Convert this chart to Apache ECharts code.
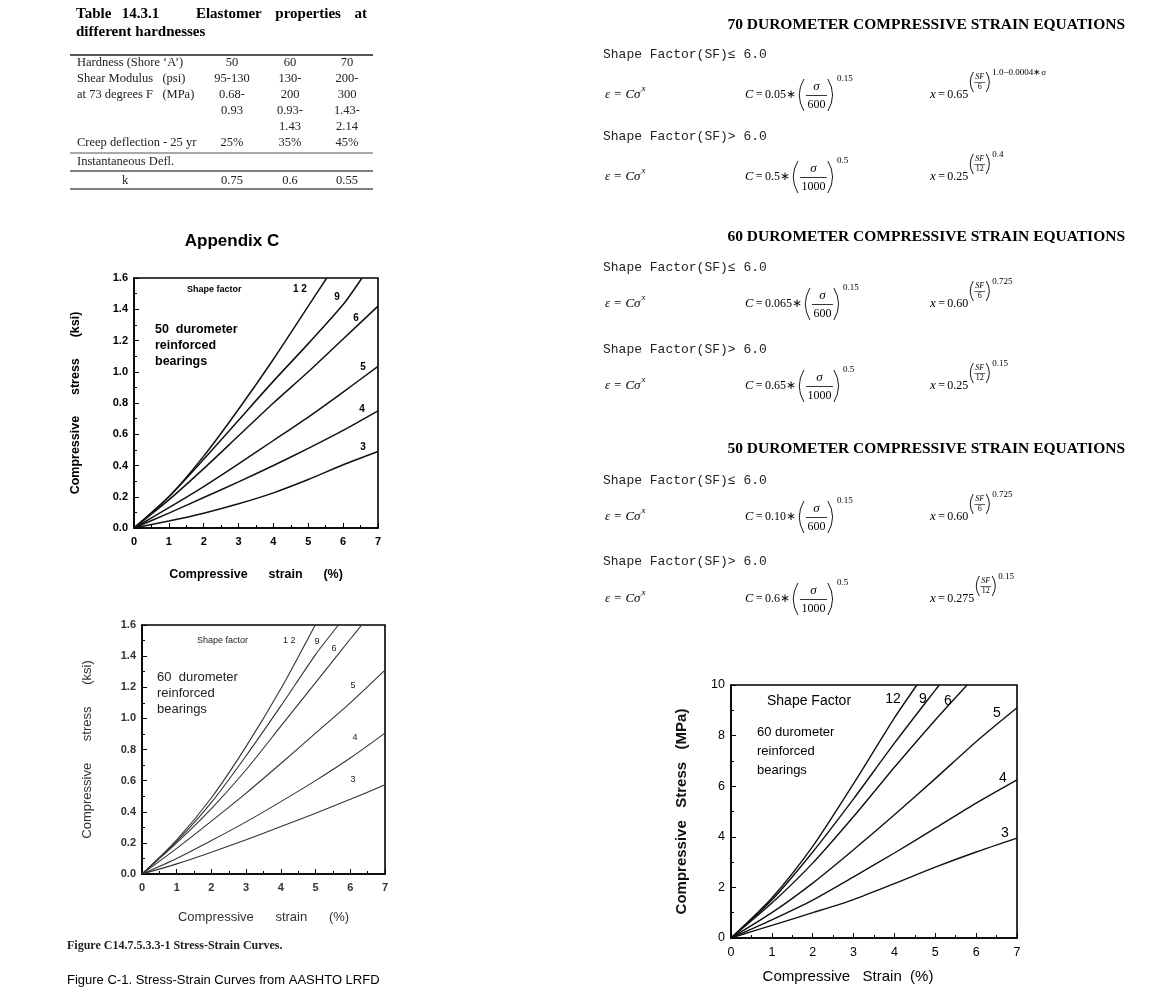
<!DOCTYPE html>
<html><head><meta charset="utf-8">
<script src="https://cdn.jsdelivr.net/npm/echarts@6/dist/echarts.min.js"></script>
<style>html,body{margin:0;padding:0;background:#fff}#c{width:1153px;height:1001px}</style>
</head><body><div id="c"></div>
<script>
// ---------------- DATA ----------------
const strainTicks = [0, 1, 2, 3, 4, 5, 6, 7];
const shapeFactors = ['3', '4', '5', '6', '9', '12'];

// 50 durometer, compressive stress (ksi) vs strain (%)
const d50_sf3  = [[0,0],[1,0.045],[2,0.095],[3,0.155],[4,0.225],[5,0.31],[6,0.405],[7,0.49]];
const d50_sf4  = [[0,0],[1,0.095],[2,0.195],[3,0.295],[4,0.4],[5,0.51],[6,0.625],[7,0.75]];
const d50_sf5  = [[0,0],[1,0.13],[2,0.265],[3,0.41],[4,0.56],[5,0.71],[6,0.87],[7,1.035]];
const d50_sf6  = [[0,0],[1,0.18],[2,0.38],[3,0.59],[4,0.8],[5,1.0],[6,1.21],[7,1.42]];
const d50_sf9  = [[0,0],[1,0.2],[2,0.44],[3,0.69],[4,0.94],[5,1.18],[6,1.43],[6.54,1.6]];
const d50_sf12 = [[0,0],[1,0.2],[2,0.46],[3,0.76],[4,1.08],[5,1.42],[5.53,1.6]];

// 60 durometer, compressive stress (ksi)
const d60_sf3  = [[0,0],[1,0.065],[2,0.14],[3,0.22],[4,0.305],[5,0.39],[6,0.48],[7,0.573]];
const d60_sf4  = [[0,0],[1,0.1],[2,0.215],[3,0.335],[4,0.465],[5,0.6],[6,0.745],[7,0.905]];
const d60_sf5  = [[0,0],[1,0.165],[2,0.34],[3,0.52],[4,0.71],[5,0.905],[6,1.1],[7,1.31]];
const d60_sf6  = [[0,0],[1,0.2],[2,0.42],[3,0.67],[4,0.95],[5,1.23],[6,1.51],[6.33,1.6]];
const d60_sf9  = [[0,0],[1,0.21],[2,0.46],[3,0.76],[4,1.08],[5,1.41],[5.66,1.6]];
const d60_sf12 = [[0,0],[1,0.22],[2,0.49],[3,0.82],[4,1.19],[4.99,1.6]];

// 60 durometer, compressive stress (MPa)
const m60_sf3  = [[0,0],[1,0.5],[2,1.0],[3,1.52],[4,2.15],[5,2.8],[6,3.4],[7,3.95]];
const m60_sf4  = [[0,0],[1,0.72],[2,1.5],[3,2.42],[4,3.36],[5,4.34],[6,5.33],[7,6.25]];
const m60_sf5  = [[0,0],[1,1.0],[2,2.17],[3,3.49],[4,4.87],[5,6.3],[6,7.76],[7,9.1]];
const m60_sf6  = [[0,0],[1,1.38],[2,2.96],[3,4.8],[4,6.75],[5,8.62],[5.78,10]];
const m60_sf9  = [[0,0],[1,1.5],[2,3.4],[3,5.5],[4,7.7],[5,9.8],[5.1,10]];
const m60_sf12 = [[0,0],[1,1.58],[2,3.62],[3,6.1],[4,8.7],[4.55,10]];

const ksiTicks = [0, 0.2, 0.4, 0.6, 0.8, 1.0, 1.2, 1.4, 1.6];
const mpaTicks = [0, 2, 4, 6, 8, 10];

// Table 14.3.1
const tableHeader = ['Hardness (Shore \u2018A\u2019)', '50', '60', '70'];
const tableRows = [
  ['Shear Modulus   (psi)', '95-130', '130-', '200-'],
  ['at 73 degrees F   (MPa)', '0.68-', '200', '300'],
  ['', '0.93', '0.93-', '1.43-'],
  ['', '', '1.43', '2.14'],
  ['Creep deflection - 25 yr', '25%', '35%', '45%']
];
const tableInst = 'Instantaneous Defl.';
const tableK = ['k', '0.75', '0.6', '0.55'];

// Equations
const eqBlocks = [
  {title:'70 DUROMETER COMPRESSIVE STRAIN EQUATIONS',
   le:{c:'0.05', den:'600', cexp:'0.15', xb:'0.65', xd:'6', xexp:'1.0\u22120.0004\u2217\u03c3'},
   gt:{c:'0.5', den:'1000', cexp:'0.5', xb:'0.25', xd:'12', xexp:'0.4'}},
  {title:'60 DUROMETER COMPRESSIVE STRAIN EQUATIONS',
   le:{c:'0.065', den:'600', cexp:'0.15', xb:'0.60', xd:'6', xexp:'0.725'},
   gt:{c:'0.65', den:'1000', cexp:'0.5', xb:'0.25', xd:'12', xexp:'0.15'}},
  {title:'50 DUROMETER COMPRESSIVE STRAIN EQUATIONS',
   le:{c:'0.10', den:'600', cexp:'0.15', xb:'0.60', xd:'6', xexp:'0.725'},
   gt:{c:'0.6', den:'1000', cexp:'0.5', xb:'0.275', xd:'12', xexp:'0.15'}}
];

// ---------------- LAYOUT HELPERS ----------------
const FS = '"Liberation Sans", Arial, sans-serif';
const FSn = 'Liberation Sans';
const FT = '"Liberation Serif", "Times New Roman", serif';
const FM = '"Liberation Mono", "Courier New", monospace';
const ctx = document.createElement('canvas').getContext('2d');
function tw(s, font){ ctx.font = font; return ctx.measureText(s).width; }
function T(x, y, s, font, o){ o = o || {}; return {type:'text', x:x, y:y, silent:true, z:100,
  style:{text:s, font:font, fill:o.fill || '#000', align:o.align || 'left', verticalAlign:o.va || 'middle'}}; }
function L(x1, y1, x2, y2, w, c){ return {type:'line', silent:true, z:100, shape:{x1:x1,y1:y1,x2:x2,y2:y2},
  style:{stroke:c || '#000', lineWidth:w || 1}}; }
function P(x, yt, yb, w, left){
  const m = (yt + yb) / 2;
  const sh = left ? {x1:x + w, y1:yt, x2:x + w, y2:yb, cpx1:x - w * 0.55, cpy1:m}
                  : {x1:x, y1:yt, x2:x, y2:yb, cpx1:x + w * 1.55, cpy1:m};
  return {type:'bezierCurve', silent:true, z:100, shape:sh, style:{stroke:'#000', lineWidth:0.9, fill:null}};
}

const G = [];

// ---- Table ----
(function(){
  const tf = `bold 15px ${FT}`;
  const words = ['Table', '14.3.1', 'Elastomer', 'properties', 'at'];
  const x0 = 76, x1 = 367;
  let total = 0; words.forEach(w => total += tw(w, tf));
  const gaps = [1, 3.5, 1.3, 1.3]; const gsum = 7.1;
  const free = (x1 - x0) - total;
  let x = x0;
  words.forEach((w, i) => { G.push(T(x, 14, w, tf)); x += tw(w, tf) + (i < 4 ? free * gaps[i] / gsum : 0); });
  G.push(T(76, 32, 'different hardnesses', tf));
  const rf = `12.5px ${FT}`, col = '#222';
  const cx = [232, 290, 347];
  G.push(L(70, 55, 373, 55, 2, '#555'));
  G.push(T(77, 63, tableHeader[0], rf, {fill:col}));
  for (let j = 1; j < 4; j++) G.push(T(cx[j-1], 63, tableHeader[j], rf, {fill:col, align:'center'}));
  tableRows.forEach((r, i) => {
    const y = 79 + i * 16;
    if (r[0]) G.push(T(77, y, r[0], rf, {fill:col}));
    for (let j = 1; j < 4; j++) if (r[j]) G.push(T(cx[j-1], y, r[j], rf, {fill:col, align:'center'}));
  });
  G.push(L(70, 153, 373, 153, 1.2, '#555'));
  G.push(T(77, 162, tableInst, rf, {fill:col}));
  G.push(L(70, 171, 373, 171, 1.6, '#555'));
  G.push(T(125, 181, tableK[0], rf, {fill:col, align:'center'}));
  for (let j = 1; j < 4; j++) G.push(T(cx[j-1], 181, tableK[j], rf, {fill:col, align:'center'}));
  G.push(L(70, 189, 373, 189, 1.6, '#555'));
})();

// ---- Equations ----
function eqRow(y, p){
  const it = `italic 13px ${FT}`, nm = `12px ${FT}`, itC = `italic 12.5px ${FT}`;
  let x = 605;
  G.push(T(x, y, '\u03b5 = C\u03c3', it));
  x += tw('\u03b5 = C\u03c3', it) + 1;
  G.push(T(x, y - 6, 'x', `italic 9px ${FT}`));
  x = 745;
  G.push(T(x, y, 'C', itC)); x += tw('C', itC);
  const s1 = '\u2009=\u2009' + p.c + '\u2217'; G.push(T(x, y, s1, nm)); x += tw(s1, nm) + 2;
  G.push(P(x, y - 16, y + 16, 6, true)); x += 8;
  const fw = tw(p.den, nm) + 3;
  G.push(T(x + fw / 2, y - 8, '\u03c3', it, {align:'center'}));
  G.push(L(x, y + 0.5, x + fw, y + 0.5, 0.8));
  G.push(T(x + fw / 2, y + 10, p.den, nm, {align:'center'}));
  x += fw + 1;
  G.push(P(x, y - 16, y + 16, 6, false)); x += 9;
  G.push(T(x, y - 16, p.cexp, `9px ${FT}`));
  x = 930;
  G.push(T(x, y, 'x', it)); x += tw('x', it);
  const s2 = '\u2009=\u2009' + p.xb; G.push(T(x, y, s2, nm)); x += tw(s2, nm) + 1;
  const sy = y - 13;
  G.push(P(x, sy - 10, sy + 10, 4, true)); x += 5;
  const sf = `italic 8px ${FT}`, df = `8px ${FT}`;
  const fw2 = Math.max(tw('SF', sf), tw(p.xd, df)) + 2;
  G.push(T(x + fw2 / 2, sy - 5, 'SF', sf, {align:'center'}));
  G.push(L(x, sy + 0.5, x + fw2, sy + 0.5, 0.6));
  G.push(T(x + fw2 / 2, sy + 5, p.xd, df, {align:'center'}));
  x += fw2 + 1;
  G.push(P(x, sy - 10, sy + 10, 4, false)); x += 6;
  G.push(T(x, sy - 9, p.xexp, `9px ${FT}`));
}
const eqY = [[25, 55, 95, 137, 177], [237, 268, 304, 350, 386], [449, 481, 517, 562, 599]];
eqBlocks.forEach((b, i) => {
  const ys = eqY[i];
  G.push(T(1125, ys[0], b.title, `bold 15.5px ${FT}`, {align:'right'}));
  G.push(T(603, ys[1], 'Shape Factor(SF)\u2264 6.0', `13px ${FM}`, {fill:'#222'}));
  eqRow(ys[2], b.le);
  G.push(T(603, ys[3], 'Shape Factor(SF)> 6.0', `13px ${FM}`, {fill:'#222'}));
  eqRow(ys[4], b.gt);
});

// ---- Chart annotations ----
G.push(T(232, 241, 'Appendix C', `bold 17px ${FS}`, {align:'center'}));
G.push(T(187, 290, 'Shape factor', `bold 9px ${FS}`));
G.push(T(293, 289, '1 2', `bold 10px ${FS}`));
[['9',337,297],['6',356,318],['5',363,367],['4',362,409],['3',363,447]].forEach(a => G.push(T(a[1], a[2], a[0], `bold 10px ${FS}`, {align:'center'})));
G.push(T(155, 330, '50  durometer', `bold 12.5px ${FS}`));
G.push(T(155, 346, 'reinforced', `bold 12.5px ${FS}`));
G.push(T(155, 362, 'bearings', `bold 12.5px ${FS}`));
G.push(T(197, 641, 'Shape factor', `9px ${FS}`, {fill:'#222'}));
G.push(T(283, 641, '1 2', `9px ${FS}`, {fill:'#222'}));
[['9',317,642],['6',334,649],['5',353,686],['4',355,738],['3',353,780]].forEach(a => G.push(T(a[1], a[2], a[0], `9px ${FS}`, {align:'center', fill:'#222'})));
G.push(T(157, 677, '60  durometer', `13px ${FS}`, {fill:'#222'}));
G.push(T(157, 693, 'reinforced', `13px ${FS}`, {fill:'#222'}));
G.push(T(157, 709, 'bearings', `13px ${FS}`, {fill:'#222'}));
G.push(T(67, 946, 'Figure C14.7.5.3.3-1 Stress-Strain Curves.', `bold 12px ${FT}`, {fill:'#222'}));
G.push(T(67, 980, 'Figure C-1. Stress-Strain Curves from AASHTO LRFD', `13px ${FS}`));
G.push(T(767, 701, 'Shape Factor', `14px ${FS}`));
G.push(T(893, 699, '12', `14px ${FS}`, {align:'center'}));
[['9',923,699],['6',948,701],['5',997,713],['4',1003,778],['3',1005,833]].forEach(a => G.push(T(a[1], a[2], a[0], `14px ${FS}`, {align:'center'})));
G.push(T(757, 732, '60 durometer', `13px ${FS}`));
G.push(T(757, 751, 'reinforced', `13px ${FS}`));
G.push(T(757, 770, 'bearings', `13px ${FS}`));

// ---------------- CHART ----------------
const grids = [
  {left:134, top:278, width:244, height:250},
  {left:142, top:625, width:243, height:249},
  {left:731, top:685, width:286, height:253}
].map(g => Object.assign(g, {show:true, borderColor:'#000', borderWidth:1.6, backgroundColor:'transparent', containLabel:false}));

function ts(size, weight, color, pad){ const o = {fontFamily:FSn, fontSize:size, fontWeight:weight, color:color}; if (pad) o.padding = pad; return o; }
function xAx(i, name, gap, lf, nf){
  return {type:'value', gridIndex:i, min:strainTicks[0], max:strainTicks[strainTicks.length-1], interval:1,
    name:name, nameLocation:'middle', nameGap:gap, nameTextStyle:nf,
    axisLine:{show:true, lineStyle:{color:'#000', width:1.6}},
    axisTick:{show:true, inside:true, length:5, lineStyle:{color:'#000'}},
    minorTick:{show:true, splitNumber:2, length:3, lineStyle:{color:'#000'}},
    splitLine:{show:false}, minorSplitLine:{show:false},
    axisLabel:Object.assign({margin:8}, lf)};
}
function yAx(i, ticks, interval, name, gap, lf, nf, fmt){
  return {type:'value', gridIndex:i, min:ticks[0], max:ticks[ticks.length-1], interval:interval,
    name:name, nameLocation:'middle', nameGap:gap, nameRotate:90, nameTextStyle:nf,
    axisLine:{show:true, lineStyle:{color:'#000', width:1.6}},
    axisTick:{show:true, inside:true, length:5, lineStyle:{color:'#000'}},
    minorTick:{show:true, splitNumber:2, length:3, lineStyle:{color:'#000'}},
    splitLine:{show:false}, minorSplitLine:{show:false},
    axisLabel:Object.assign({margin:6, formatter:fmt}, lf)};
}

const xAxes = [
  xAx(0, 'Compressive      strain      (%)', 40, ts(11, 'bold', '#000'), ts(12.5, 'bold', '#000')),
  xAx(1, 'Compressive      strain      (%)', 37, ts(11, 'bold', '#333'), ts(13, 'normal', '#333')),
  xAx(2, 'Compressive   Strain  (%)', 31, ts(12.5, 'normal', '#000'), ts(15, 'normal', '#000', [0, 52, 0, 0]))
];
const yAxes = [
  yAx(0, ksiTicks, 0.2, 'Compressive      stress      (ksi)', 52, ts(11, 'bold', '#000'), ts(12.5, 'bold', '#000'), v => v.toFixed(1)),
  yAx(1, ksiTicks, 0.2, 'Compressive      stress      (ksi)', 48, ts(11, 'bold', '#333'), ts(13, 'normal', '#333'), v => v.toFixed(1)),
  yAx(2, mpaTicks, 2, 'Compressive   Stress   (MPa)', 42, ts(12.5, 'normal', '#000'), ts(15, 'bold', '#111'), v => String(v))
];

const chartSets = [
  {data:[d50_sf3, d50_sf4, d50_sf5, d50_sf6, d50_sf9, d50_sf12], color:'#111', width:1.5},
  {data:[d60_sf3, d60_sf4, d60_sf5, d60_sf6, d60_sf9, d60_sf12], color:'#333', width:1.1},
  {data:[m60_sf3, m60_sf4, m60_sf5, m60_sf6, m60_sf9, m60_sf12], color:'#111', width:1.4}
];
const series = [];
chartSets.forEach((cs, gi) => cs.data.forEach((d, k) => series.push({
  type:'line', name:'SF ' + shapeFactors[k], xAxisIndex:gi, yAxisIndex:gi, data:d,
  showSymbol:false, smooth:0.25, clip:true, silent:true,
  lineStyle:{color:cs.color, width:cs.width}
})));

const chart = echarts.init(document.getElementById('c'), null, {renderer:'canvas'});
chart.setOption({
  animation:false,
  backgroundColor:'#fff',
  grid:grids, xAxis:xAxes, yAxis:yAxes, series:series,
  graphic:{elements:G}
});
</script></body></html>
